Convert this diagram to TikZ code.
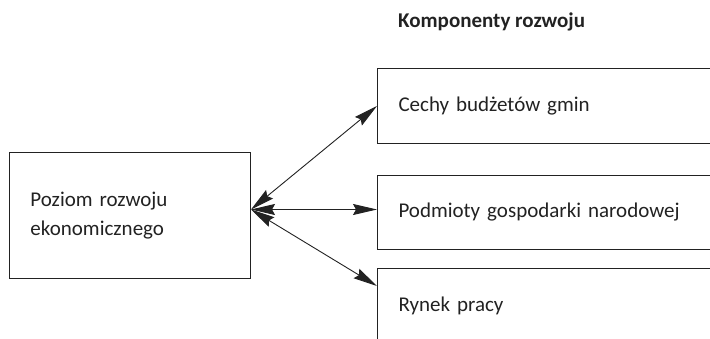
\documentclass[tikz,border=0pt]{standalone}
\usepackage{fontspec}
\setmainfont{Carlito}
\definecolor{LineGray}{HTML}{222222}
\usetikzlibrary{arrows.meta,positioning}

\begin{document}
\begin{tikzpicture}[x=1pt, y=-1pt, every node/.style={font=\fontsize{21}{29}\selectfont, align=left, text=LineGray}, block/.style={draw=LineGray, line width=1pt, anchor=north west, inner xsep=21pt, inner ysep=0pt, text width=318pt, minimum height=75pt}, link/.style={{Stealth[length=24pt,width=11pt,inset=3pt]}-{Stealth[length=24pt,width=11pt,inset=3pt]}, line width=0.9pt, LineGray}]
        \useasboundingbox (0,0) rectangle (710,339);
        \clip (0,0) rectangle (710,339);
        \node[anchor=west, inner sep=0pt, font=\fontsize{21}{29}\selectfont\bfseries] (tytul) at (398,22) {Komponenty rozwoju};
        \node[block, text width=199pt, minimum height=126pt] (poziom) at (9,152) {Poziom rozwoju\\ekonomicznego};
        \node[block] (cechy) at (377,68) {Cechy budżetów gmin};
        \node[block, minimum height=74pt] (podmioty) at (377,175) {Podmioty gospodarki narodowej};
        \node[block] (rynek) at (377,268) {Rynek pracy};

        \coordinate (hub) at ([yshift=6pt]poziom.east);
        \draw[link] (hub) -- (cechy.west);
        \draw[link] (hub) -- ([yshift=3pt]podmioty.west);
        \draw[link] (hub) -- ([yshift=-18pt]rynek.north west);
    \end{tikzpicture}
\end{document}
